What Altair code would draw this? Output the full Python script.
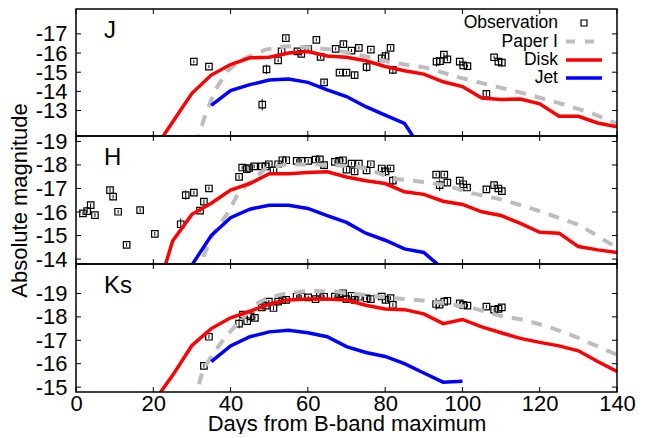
import altair as alt
import pandas as pd

FONT = "Liberation Sans"

# ---------------- data ----------------
x_ticks = [0, 20, 40, 60, 80, 100, 120, 140]

disk_days = [20, 25, 30, 35, 40, 45, 50, 55, 60, 65, 70, 75, 80, 85, 90, 95, 100,
             105, 110, 115, 120, 125, 130, 135, 140]
J_disk = [-10.9, -12.4, -13.9, -14.85, -15.4, -15.75, -15.78, -16.0, -16.08, -15.85, -15.78,
          -15.6, -15.3, -15.08, -14.9, -14.5, -14.25, -13.65, -13.58, -13.6, -13.35, -12.7,
          -12.7, -12.35, -12.15]
H_disk = [-12.05, -14.77, -15.9, -16.37, -16.93, -17.21, -17.63, -17.63, -17.68, -17.71, -17.49,
          -17.33, -17.21, -16.86, -16.75, -16.46, -16.32, -16.01, -15.85, -15.52, -15.14, -15.1,
          -14.53, -14.39, -14.28]
Ks_disk = [-14.35, -15.5, -16.78, -17.5, -17.96, -18.24, -18.55, -18.72, -18.76, -18.76, -18.72,
           -18.5, -18.34, -18.31, -18.13, -17.71, -17.89, -17.57, -17.32, -17.08, -16.91, -16.76,
           -16.55, -16.09, -15.67]

J_jet_days = [35, 40, 45, 50, 55, 60, 65, 70, 75, 80, 85, 90]
J_jet = [-13.27, -14.04, -14.35, -14.59, -14.64, -14.47, -14.08, -13.73, -13.2, -12.76, -12.33, -10.8]
H_jet_days = [30, 35, 40, 45, 50, 55, 60, 65, 70, 75, 80, 85, 90, 95]
H_jet = [-13.75, -15.0, -15.76, -16.12, -16.29, -16.29, -16.15, -15.85, -15.56, -15.1, -14.8,
         -14.43, -14.28, -13.58]
Ks_jet_days = [35, 40, 45, 50, 55, 60, 65, 70, 75, 80, 85, 90, 95, 100]
Ks_jet = [-16.09, -16.76, -17.15, -17.36, -17.43, -17.32, -17.15, -16.73, -16.48, -16.31, -16.0,
          -15.6, -15.21, -15.25]

J_pap_days = [31, 33.6, 36.2, 39.2, 43, 49.1, 54.3, 60.3, 66.3, 73, 81.9, 90.5, 99.1, 107.7,
              116.4, 125, 133.6, 140]
J_pap = [-11.2, -12.85, -14.13, -15.07, -15.67, -16.18, -16.35, -16.3, -16.18, -15.92, -15.5,
         -15.24, -14.73, -14.3, -13.87, -13.39, -12.85, -12.3]
H_pap_days = [31, 32.3, 35.3, 39.2, 42.2, 46.1, 49.1, 54.3, 60, 66, 72, 76, 81.9, 88.3, 95.7,
              102.6, 109.5, 116.4, 123.3, 130.2, 138.8, 140]
H_pap = [-13.3, -13.83, -15.03, -15.94, -16.86, -17.42, -17.85, -18.01, -18.02, -18.0, -17.95,
         -17.8, -17.42, -17.31, -17.14, -16.79, -16.55, -16.23, -15.85, -15.45, -14.6, -14.5]
Ks_pap_days = [30.5, 31.4, 32.7, 35.3, 38.7, 42.2, 46.5, 49.9, 54.3, 60.3, 67.2, 73.2, 81.9,
               88.3, 95.7, 102.6, 109.5, 116.4, 122.4, 129.3, 138, 140]
Ks_pap = [-14.3, -14.83, -15.67, -16.38, -17.15, -17.78, -18.55, -18.83, -19.0, -19.11, -19.08,
          -18.97, -18.8, -18.72, -18.58, -18.38, -18.06, -17.85, -17.57, -17.15, -16.52, -16.38]

J_obs_days = [30.5, 34.4, 48.2, 49.3, 52.3, 53.2, 54.3, 57.3, 58.3, 60.1, 62.2, 63.3, 64.2, 67.2,
              68.2, 69.2, 70.0, 71.3, 72.1, 73.2, 75.2, 76.3, 79.1, 80.1, 81.4, 82.0, 93.3, 94.2,
              95.2, 96.1, 99.3, 100.2, 101.3, 106.2, 108.2, 109.3, 110.2]
J_obs = [-15.55, -15.29, -13.31, -15.15, -15.62, -16.09, -16.78, -16.09, -15.96, -16.22, -16.69,
         -15.8, -14.47, -16.22, -14.98, -16.47, -14.98, -16.13, -14.85, -16.27, -15.27, -16.18,
         -15.72, -15.84, -16.27, -15.12, -15.55, -15.58, -15.92, -15.67, -15.55, -15.36, -15.32,
         -13.87, -15.78, -15.55, -15.5]
J_err = [0.08, 0.08, 0.3, 0.25, 0.1, 0.1, 0.1, 0.1, 0.1, 0.08, 0.08, 0.1, 0.1, 0.08, 0.08, 0.1,
         0.1, 0.08, 0.15, 0.08, 0.25, 0.08, 0.1, 0.25, 0.1, 0.2, 0.25, 0.1, 0.1, 0.1, 0.08, 0.08,
         0.08, 0.2, 0.08, 0.1, 0.2]

H_obs_days = [1.8, 2.9, 3.8, 4.9, 8.8, 9.6, 10.9, 13.1, 16.6, 20.4, 27.1, 28.4, 30.5, 32.1, 33.1,
              34.4, 42.2, 43.0, 44.2, 44.8, 46.1, 48.1, 49.1, 49.9, 51.1, 52.3, 53.4, 54.4, 57.1,
              58.3, 60.1, 62.0, 63.1, 64.2, 67.0, 68.1, 69.1, 70.0, 71.3, 72.1, 73.2, 75.2, 76.3,
              79.1, 80.1, 81.4, 82.0, 93.2, 94.1, 95.3, 96.1, 99.3, 100.2, 101.2, 106.2, 108.2,
              109.3, 110.2]
H_obs = [-15.94, -16.04, -16.29, -15.87, -16.93, -16.65, -16.01, -14.6, -16.08, -15.07, -15.48,
         -16.72, -16.82, -16.06, -16.44, -17.0, -17.49, -17.89, -17.82, -17.87, -17.94, -17.94,
         -17.94, -18.03, -17.77, -18.03, -18.2, -18.2, -18.17, -18.17, -18.17, -18.23, -18.24,
         -17.99, -18.13, -18.17, -18.2, -17.8, -18.06, -17.73, -18.06, -17.77, -18.03, -17.85,
         -17.73, -17.85, -17.33, -17.59, -17.14, -17.59, -17.25, -17.33, -17.18, -17.04, -16.96,
         -17.14, -17.0, -16.89]
H_err = [0.08, 0.08, 0.08, 0.08, 0.1, 0.08, 0.08, 0.08, 0.08, 0.08, 0.25, 0.2, 0.08, 0.08, 0.1,
         0.08, 0.08, 0.08, 0.08, 0.08, 0.08, 0.08, 0.08, 0.08, 0.08, 0.08, 0.08, 0.08, 0.08, 0.08,
         0.08, 0.08, 0.08, 0.1, 0.08, 0.08, 0.08, 0.1, 0.08, 0.1, 0.08, 0.08, 0.08, 0.08, 0.2,
         0.08, 0.2, 0.08, 0.25, 0.08, 0.1, 0.08, 0.08, 0.08, 0.08, 0.08, 0.08, 0.1]

Ks_obs_days = [33.1, 34.4, 42.2, 43.2, 44.3, 45.2, 46.3, 48.1, 49.1, 49.9, 51.1, 52.3, 53.4, 54.4,
               57.1, 58.3, 60.1, 62.0, 63.1, 64.2, 67.0, 68.1, 69.1, 70.0, 71.3, 72.1, 73.2, 75.2,
               76.3, 79.1, 80.1, 81.4, 82.0, 93.2, 94.1, 95.3, 96.1, 99.3, 100.2, 101.3, 106.2,
               108.2, 109.3, 110.2]
Ks_obs = [-15.91, -17.15, -17.71, -18.1, -17.82, -18.02, -17.96, -18.41, -18.48, -18.65, -18.38,
          -18.65, -18.72, -18.73, -18.86, -18.86, -18.83, -18.76, -18.9, -18.86, -18.87, -18.97,
          -19.01, -18.76, -18.9, -18.73, -18.86, -18.79, -18.76, -18.87, -18.73, -18.8, -18.51,
          -18.55, -18.52, -18.65, -18.69, -18.58, -18.51, -18.48, -18.44, -18.31, -18.34, -18.41]
Ks_err = [0.08, 0.08, 0.2, 0.08, 0.08, 0.08, 0.08, 0.08, 0.08, 0.08, 0.1, 0.08, 0.08, 0.08, 0.08,
          0.08, 0.08, 0.08, 0.08, 0.08, 0.08, 0.08, 0.08, 0.08, 0.08, 0.08, 0.08, 0.08, 0.08, 0.08,
          0.15, 0.08, 0.08, 0.25, 0.08, 0.08, 0.08, 0.08, 0.08, 0.08, 0.08, 0.08, 0.08, 0.08]

legend_labels = ["Observation", "Paper I", "Disk", "Jet"]

# ---------------- styling ----------------
W = 541
RED = "#ff0000"
BLUE = "#0000ff"
GRAY = "#bdbdbd"


def panel(label, obs_d, obs_m, obs_e, pap_d, pap_m, disk_m, jet_d, jet_m,
          ydom, yticks, h, bottom=False, ytitle=None, legend=False):
    xs = alt.Scale(domain=[0, 140], nice=False, zero=False)
    ys = alt.Scale(domain=ydom, nice=False, zero=False, reverse=True)
    if bottom:
        xaxis = alt.Axis(values=x_ticks, ticks=False, domain=False, grid=False,
                         labelFontSize=22, titleFontSize=22, labelPadding=1,
                         titlePadding=-1, labelColor="black", titleColor="black",
                         titleFontWeight="normal", labelFlush=False, labelOverlap=False)
        xtitle = "Days from B-band maximum"
    else:
        xaxis = None
        xtitle = None
    yaxis = alt.Axis(values=yticks, ticks=False, domain=False, grid=False,
                     labelFontSize=22, titleFontSize=22, labelPadding=9, titlePadding=4,
                     labelColor="black", titleColor="black", titleFontWeight="normal",
                     labelFlush=False, labelOverlap=False,
                     labelExpr="'-' + format(abs(datum.value), 'd')")

    def X(f):
        return alt.X(f, type="quantitative", scale=xs, axis=xaxis, title=xtitle)

    def Y(f):
        return alt.Y(f, type="quantitative", scale=ys, axis=yaxis, title=ytitle)

    obs = pd.DataFrame({"d": obs_d, "m": obs_m, "e": obs_e})
    obs["lo"] = obs["m"] - obs["e"]
    obs["hi"] = obs["m"] + obs["e"]
    pap = pd.DataFrame({"d": pap_d, "m": pap_m})
    disk = pd.DataFrame({"d": disk_days, "m": disk_m})
    jet = pd.DataFrame({"d": jet_d, "m": jet_m})
    xt = pd.DataFrame({"t": x_ticks})
    yt = pd.DataFrame({"t": yticks})

    layers = []
    # tick marks (inward) on four sides
    layers.append(alt.Chart(xt).mark_rule(color="black", strokeWidth=1).encode(
        x=X("t"), y=alt.value(h), y2=alt.value(h - 5)))
    layers.append(alt.Chart(xt).mark_rule(color="black", strokeWidth=1).encode(
        x=X("t"), y=alt.value(0), y2=alt.value(5)))
    layers.append(alt.Chart(yt).mark_rule(color="black", strokeWidth=1).encode(
        y=Y("t"), x=alt.value(0), x2=alt.value(5)))
    layers.append(alt.Chart(yt).mark_rule(color="black", strokeWidth=1).encode(
        y=Y("t"), x=alt.value(W - 5), x2=alt.value(W)))
    # observations
    layers.append(alt.Chart(obs).mark_rule(color="black", strokeWidth=1, clip=True).encode(
        x=X("d"), y=Y("lo"), y2="hi"))
    layers.append(alt.Chart(obs).mark_point(shape="square", filled=False, size=42, color="black",
                                            strokeWidth=1.2, opacity=1, clip=True).encode(
        x=X("d"), y=Y("m")))
    # models
    layers.append(alt.Chart(pap).mark_line(color=GRAY, strokeWidth=4, strokeDash=[11, 9],
                                           clip=True).encode(x=X("d"), y=Y("m")))
    layers.append(alt.Chart(disk).mark_line(color=RED, strokeWidth=3.5, clip=True).encode(
        x=X("d"), y=Y("m")))
    layers.append(alt.Chart(jet).mark_line(color=BLUE, strokeWidth=3.5, clip=True).encode(
        x=X("d"), y=Y("m")))
    # frame
    layers.append(alt.Chart(pd.DataFrame({"t": [0]})).mark_rect(
        fill=None, stroke="black", strokeWidth=1.5).encode(
        x=alt.value(0), x2=alt.value(W), y=alt.value(0), y2=alt.value(h)))
    # panel label
    layers.append(alt.Chart(pd.DataFrame({"t": [label]})).mark_text(
        align="left", baseline="alphabetic", fontSize=24, font=FONT, color="black").encode(
        text="t:N", x=alt.value(28), y=alt.value(28.5)))

    if legend:
        ys_leg = [14, 32.5, 51, 69]
        one = pd.DataFrame({"t": [0]})
        for lab, yy in zip(legend_labels, ys_leg):
            layers.append(alt.Chart(pd.DataFrame({"t": [lab]})).mark_text(
                align="right", baseline="middle", fontSize=17.5, font=FONT, color="black").encode(
                text="t:N", x=alt.value(482), y=alt.value(yy)))
        layers.append(alt.Chart(one).mark_point(shape="square", filled=False, size=36,
                                                color="black", strokeWidth=1.2, opacity=1).encode(
            x=alt.value(508), y=alt.value(ys_leg[0])))
        layers.append(alt.Chart(one).mark_rule(color=GRAY, strokeWidth=4, strokeDash=[9, 10]).encode(
            x=alt.value(490), x2=alt.value(526), y=alt.value(ys_leg[1])))
        layers.append(alt.Chart(one).mark_rule(color=RED, strokeWidth=3.5).encode(
            x=alt.value(490), x2=alt.value(526), y=alt.value(ys_leg[2])))
        layers.append(alt.Chart(one).mark_rule(color=BLUE, strokeWidth=3.5).encode(
            x=alt.value(490), x2=alt.value(526), y=alt.value(ys_leg[3])))

    return alt.layer(*layers).properties(width=W, height=h)


pJ = panel("J", J_obs_days, J_obs, J_err, J_pap_days, J_pap, J_disk, J_jet_days, J_jet,
           [-18.3, -11.67], [-17, -16, -15, -14, -13], 127, legend=True)
pH = panel("H", H_obs_days, H_obs, H_err, H_pap_days, H_pap, H_disk, H_jet_days, H_jet,
           [-19.23, -13.79], [-19, -18, -17, -16, -15, -14], 128, ytitle="Absolute magnitude")
pK = panel("Ks", Ks_obs_days, Ks_obs, Ks_err, Ks_pap_days, Ks_pap, Ks_disk, Ks_jet_days, Ks_jet,
           [-20.26, -14.79], [-19, -18, -17, -16, -15], 128, bottom=True)

chart = alt.vconcat(pJ, pH, pK, spacing=0, bounds="flush").properties(
    padding={"left": 0, "top": 0, "right": 5, "bottom": 0},
    background="white",
).configure_view(stroke=None).configure_axis(
    labelFont=FONT, titleFont=FONT
)

chart.save("out.html", embed_options={"renderer": "svg", "actions": False})
